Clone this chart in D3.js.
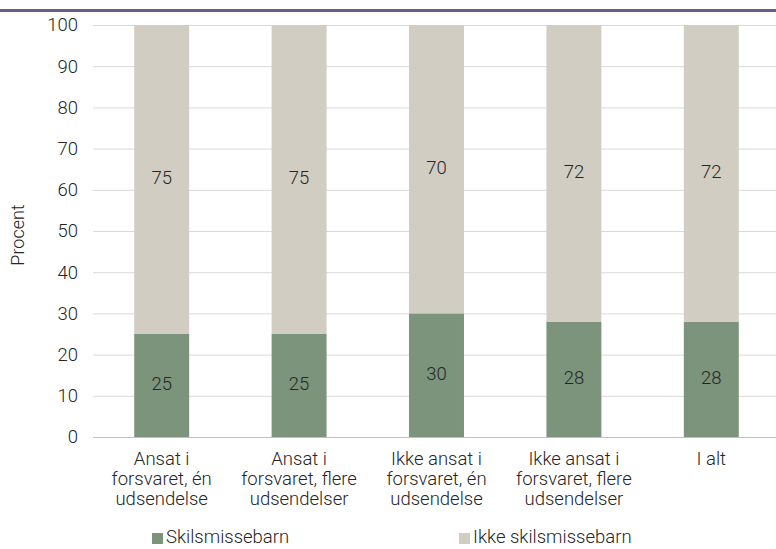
<!DOCTYPE html>
<html><head><meta charset="utf-8">
<script src="https://cdn.jsdelivr.net/npm/d3@7"></script>
<style>body{margin:0;background:#fff}svg{display:block}text{font-family:Roboto,"Open Sans",sans-serif;fill:#262626;font-weight:300}</style>
</head><body><svg id="c" width="776" height="549"></svg>
<script>
const categories = [
  ["Ansat i","forsvaret, én","udsendelse"],
  ["Ansat i","forsvaret, flere","udsendelser"],
  ["Ikke ansat i","forsvaret, én","udsendelse"],
  ["Ikke ansat i","forsvaret, flere","udsendelser"],
  ["I alt"]
];
const skilsmisse = [25, 25, 30, 28, 28];
const ikkeSkilsmisse = [75, 75, 70, 72, 72];
const seriesNames = ["Skilsmissebarn", "Ikke skilsmissebarn"];
const yTicks = [0,10,20,30,40,50,60,70,80,90,100];
const colors = ["#7b947b", "#d1cdc3"];

(function(){
const svg = d3.select("#c");
const W = 776, H = 549;
const mLeft = 93, mRight = 780, mTop = 25, mBottom = 437;
const fs = "18.5px";

svg.append("rect").attr("x",0).attr("y",9).attr("width",W).attr("height",3).attr("fill","#6a5b88");

const x = d3.scaleBand().domain(d3.range(categories.length)).range([mLeft, mRight]).paddingInner(0.6).paddingOuter(0.3);
const y = d3.scaleLinear().domain([0,100]).range([mBottom, mTop]);

svg.append("g").selectAll("line").data(yTicks.filter(d=>d>0)).join("line")
  .attr("x1", mLeft).attr("x2", W).attr("y1", d=>y(d)+0.5).attr("y2", d=>y(d)+0.5)
  .attr("stroke","#d9d9d9").attr("stroke-width",1);

const yAxis = d3.axisLeft(y).tickValues(yTicks).tickSize(0).tickPadding(0);
const gy = svg.append("g").attr("transform",`translate(${mLeft-15},0)`).call(yAxis);
gy.select(".domain").remove();
gy.selectAll("text").style("font-size",fs).attr("fill","#262626").attr("font-family","Roboto, sans-serif").attr("font-weight",300);

const data = categories.map((c,i)=>({i, a: skilsmisse[i], b: ikkeSkilsmisse[i]}));
const stack = d3.stack().keys(["a","b"])(data);
stack.forEach((s,k)=>{
  svg.append("g").selectAll("rect").data(s).join("rect")
    .attr("x", d=>x(d.data.i)).attr("width", x.bandwidth())
    .attr("y", d=>y(d[1])).attr("height", d=>y(d[0])-y(d[1]))
    .attr("fill", colors[k]);
  svg.append("g").selectAll("text").data(s).join("text")
    .attr("x", d=>x(d.data.i)+x.bandwidth()/2)
    .attr("y", d=>(y(d[0])+y(d[1]))/2 - 2)
    .attr("dy","0.35em").attr("text-anchor","middle")
    .style("font-size",fs)
    .text(d=>d[1]-d[0]);
});

svg.append("line").attr("x1",mLeft).attr("x2",W).attr("y1",mBottom+0.5).attr("y2",mBottom+0.5)
  .attr("stroke","#bfbfbf").attr("stroke-width",1);

const gx = svg.append("g");
categories.forEach((lines,i)=>{
  const cx = x(i)+x.bandwidth()/2;
  const t = gx.append("text").attr("x", cx).attr("y", 465)
    .attr("text-anchor","middle").style("font-size",fs);
  lines.forEach((l,j)=>t.append("tspan").attr("x", cx).attr("dy", j===0?0:20).text(l));
});

svg.append("text").attr("transform",`translate(24,${235}) rotate(-90)`)
  .attr("text-anchor","middle").style("font-size","18px").text("Procent");

const legX = [152, 459];
seriesNames.forEach((n,k)=>{
  svg.append("rect").attr("x",legX[k]).attr("y",533).attr("width",11).attr("height",11).attr("fill",colors[k]);
  svg.append("text").attr("x",legX[k]+14).attr("y",543).style("font-size","18.5px").text(n);
});
})();
</script></body></html>
